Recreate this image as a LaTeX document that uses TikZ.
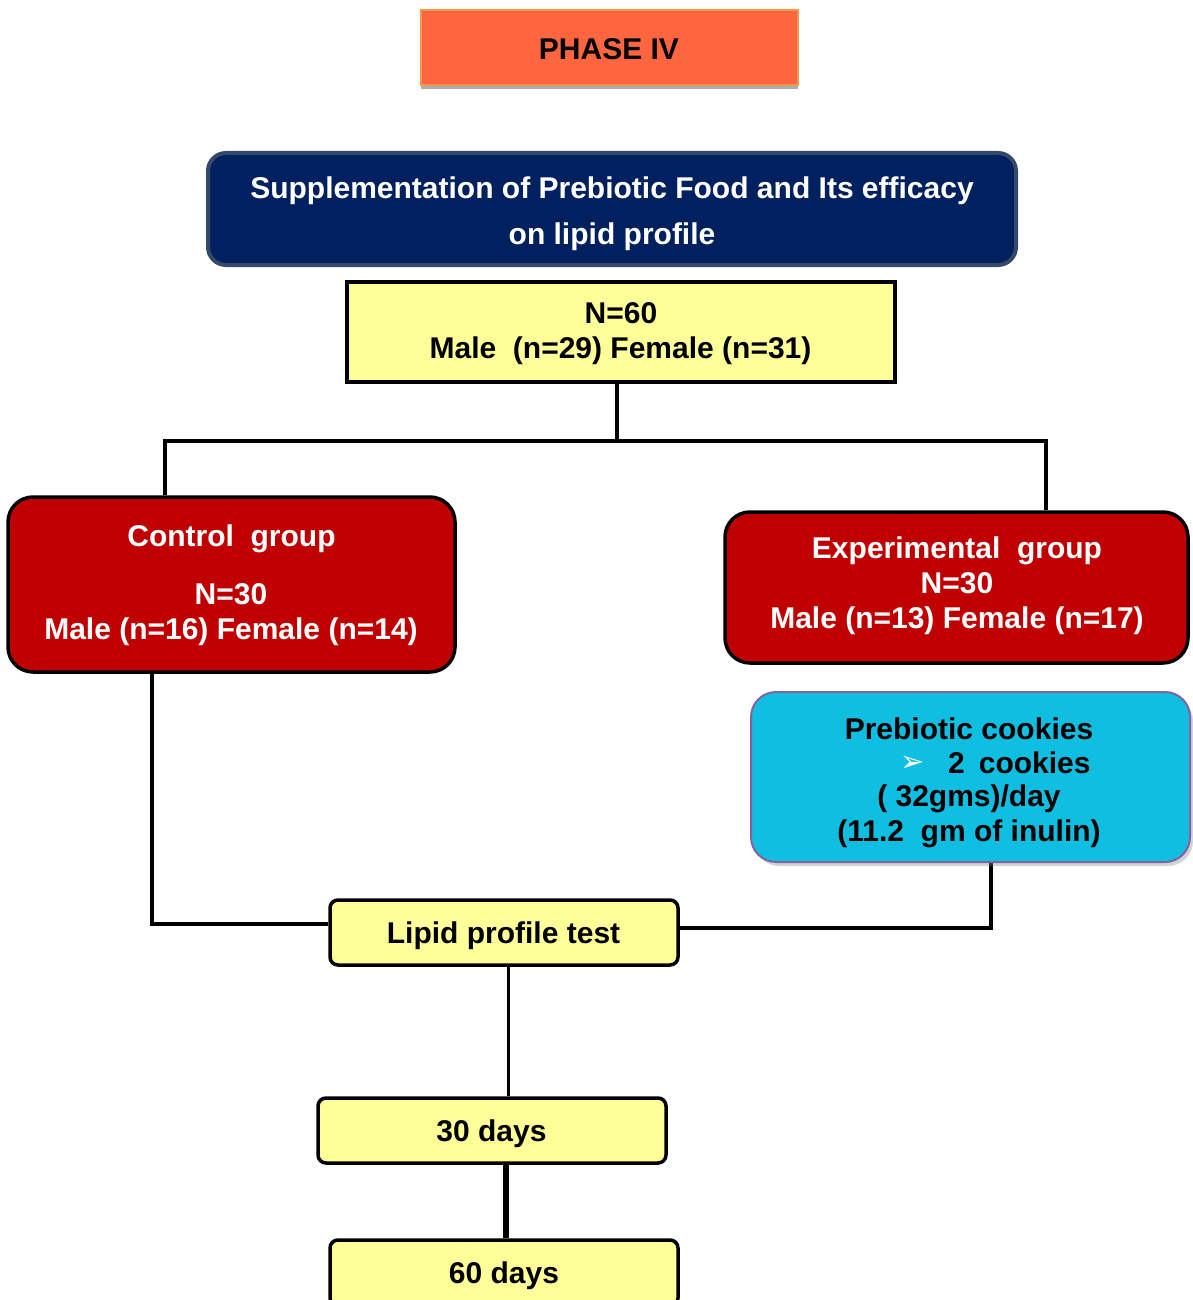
\documentclass[tikz,border=0pt]{standalone}
\usepackage{fontspec}
\setmainfont{Liberation Sans}
\newfontfamily\symfont{DejaVu Sans}
\usetikzlibrary{shadows,backgrounds}
\definecolor{phaseorange}{HTML}{FF6640}
\definecolor{phaseedge}{HTML}{F79646}
\definecolor{titlenavy}{HTML}{002060}
\definecolor{titleedge}{HTML}{34496A}
\definecolor{groupred}{HTML}{C00000}
\definecolor{paleyellow}{HTML}{FFFF99}
\definecolor{cookiecyan}{HTML}{10BEE2}
\definecolor{cookieedge}{HTML}{8064A2}
\begin{document}
\begin{tikzpicture}[x=1pt,y=-1pt,
  lbl/.style={font=\fontsize{30}{36}\selectfont\bfseries, inner sep=0pt, anchor=base},
  whitelbl/.style={lbl, text=white},
  yellowbox/.style={draw=black, fill=paleyellow, line width=3.5pt, inner sep=0pt},
  redbox/.style={draw=black, fill=groupred, line width=3.5pt, rounded corners=25pt, inner sep=0pt},
  link/.style={draw=black, line width=4pt}]
\useasboundingbox (0,0) rectangle (1192,1300);

% phase banner with its grey under-edge
\fill[black!32] (421,84) rectangle (798,89);
\node[draw=phaseedge, fill=phaseorange, line width=1.5pt, inner sep=0pt,
      minimum width=377pt, minimum height=75pt] (phase) at (609.5,47.5) {};
\node[lbl] (phasetxt) at (609,60) {PHASE IV};

% study title
\node[draw=titleedge, fill=titlenavy, line width=4pt, rounded corners=18pt, inner sep=0pt,
      minimum width=808pt, minimum height=112pt] (title) at (612,209) {};
\node[whitelbl] (title1) at (612,199) {Supplementation of Prebiotic Food and Its efficacy};
\node[whitelbl] (title2) at (612,244) {on lipid profile};

% whole sample
\node[yellowbox, minimum width=548pt, minimum height=100pt] (total) at (621,332) {};
\node[lbl] (total1) at (621,323) {N=60};
\node[lbl] (total2) at (620.5,358) {Male\ \ (n=29) Female (n=31)};

% the two arms
\node[redbox, minimum width=447pt, minimum height=175pt] (ctrl) at (231.5,584.5) {};
\node[whitelbl] (ctrl1) at (231.5,546) {Control\ \ group};
\node[whitelbl] (ctrl2) at (231,604) {N=30};
\node[whitelbl] (ctrl3) at (231,639) {Male (n=16) Female (n=14)};

\node[redbox, minimum width=463pt, minimum height=151pt] (expt) at (956.5,587.5) {};
\node[whitelbl] (expt1) at (957,558) {Experimental\ \ group};
\node[whitelbl] (expt2) at (957,593) {N=30};
\node[whitelbl] (expt3) at (957,628) {Male (n=13) Female (n=17)};

% intervention
\node[draw=cookieedge, fill=cookiecyan, line width=2pt, rounded corners=25pt, inner sep=0pt,
      minimum width=439pt, minimum height=170pt,
      drop shadow={shadow xshift=3pt, shadow yshift=-4pt, opacity=0.35}] (cookie) at (970.5,777) {};
\node[lbl] (cookie1) at (969,739) {Prebiotic cookies};
\node[inner sep=0pt, text=white, font=\symfont\fontsize{29}{34}\selectfont] (bullet) at (913,764) {➢};
\node[lbl, anchor=base west] (cookie2) at (948,773) {2\hspace{14pt}cookies};
\node[lbl] (cookie3) at (969,806) {( 32gms)/day};
\node[lbl] (cookie4) at (969,841) {(11.2\ \ gm of inulin)};

% outcome and follow-up
\node[yellowbox, rounded corners=8pt, minimum width=348pt, minimum height=65pt] (lipid) at (504,932.5) {};
\node[lbl] (lipidtxt) at (503.5,943) {Lipid profile test};

\node[yellowbox, rounded corners=8pt, minimum width=348pt, minimum height=65pt] (d30) at (492,1130.5) {};
\node[lbl] (d30txt) at (491.5,1141) {30 days};

\node[yellowbox, rounded corners=8pt, minimum width=348pt, minimum height=66pt] (d60) at (504,1273) {};
\node[lbl] (d60txt) at (504,1283) {60 days};

% connectors
\coordinate (splitL) at (165,441);
\coordinate (splitR) at (1046,441);
\coordinate (ctrlDown) at (152,924);
\coordinate (cookieDown) at (991,928);
\begin{scope}[on background layer]
\draw[link] ([xshift=-4pt]total.south) -- ([xshift=-4pt]total.south |- splitL);
\draw[link] (splitL |- ctrl.north) -- (splitL) -- (splitR) -- (splitR |- expt.north);
\draw[link] (ctrlDown |- ctrl.south) -- (ctrlDown) -- (ctrlDown -| lipid.west);
\draw[link] (cookieDown |- cookie.south) -- (cookieDown) -- (cookieDown -| lipid.east);
\draw[link, line width=3pt] ([xshift=4pt]lipid.south) -- ([xshift=4pt]lipid.south |- d30.north);
\draw[link, line width=6pt] ([xshift=14pt]d30.south) -- ([xshift=14pt]d30.south |- d60.north);
\end{scope}
\end{tikzpicture}
\end{document}
